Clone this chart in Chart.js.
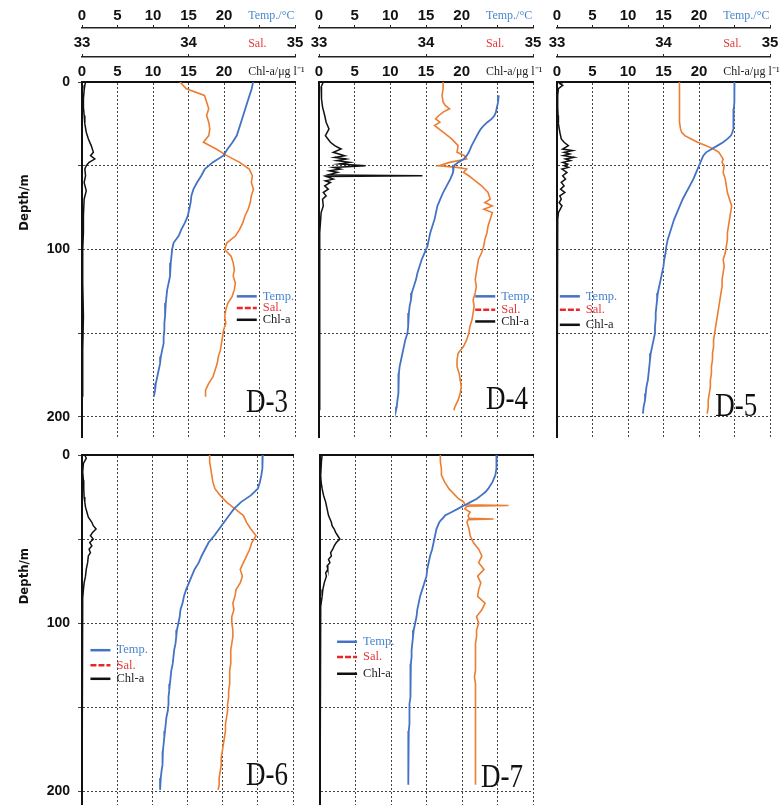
<!DOCTYPE html>
<html lang="en">
<head>
<meta charset="UTF-8">
<title>CTD profiles D-3 to D-7</title>
<style>
  body { margin: 0; background: #fff; }
  #wrap { position: relative; width: 783px; height: 805px; overflow: hidden; }
  #wrap canvas { position: absolute; }
</style>
<script src="https://cdn.jsdelivr.net/npm/chart.js@4.4.1/dist/chart.umd.min.js"></script>
</head>
<body>
<div id="wrap">
  <canvas id="c3" width="310" height="440" style="left:0;top:0"></canvas>
  <canvas id="c4" width="240" height="440" style="left:305px;top:0"></canvas>
  <canvas id="c5" width="238" height="440" style="left:545px;top:0"></canvas>
  <canvas id="c6" width="310" height="365" style="left:0;top:440px"></canvas>
  <canvas id="c7" width="240" height="365" style="left:305px;top:440px"></canvas>
</div>
<script>
// tick labels shown on the axes
const tempTicks = [0, 5, 10, 15, 20];
const salTicks = [33, 34, 35];
const chlTicks = [0, 5, 10, 15, 20];
const depthTicks = [0, 100, 200];

// --- D-3 ---
const d3Dep = [0,4,8,12,16,20,24,28,32,36,40,44,48,52,56,60,64,68,72,76,80,84,88,92,96,100,104,108,112,116,120,124,128,132,136,140,144,148,152,156,160,164,168,172,176,180,184,188];
const d3Tem = [24.1,23.9,23.6,23.3,23.0,22.7,22.4,22.1,21.8,21.2,20.5,19.9,18.4,17.3,16.8,16.2,15.7,15.4,15.3,15.1,14.9,14.5,14.0,13.6,12.9,12.7,12.6,12.5,12.4,12.4,12.2,12.0,11.9,11.8,11.7,11.7,11.6,11.6,11.5,11.5,11.3,11.1,11.0,10.8,10.6,10.4,10.3,10.1];
const d3Sal = [33.92,33.98,34.15,34.17,34.19,34.17,34.19,34.2,34.19,34.14,34.26,34.36,34.48,34.57,34.6,34.59,34.61,34.59,34.58,34.56,34.53,34.51,34.48,34.44,34.36,34.34,34.4,34.42,34.43,34.42,34.44,34.43,34.41,34.37,34.35,34.34,34.35,34.33,34.32,34.31,34.3,34.28,34.27,34.25,34.23,34.19,34.16,34.16];
const d3ChlDep = [0,2,5,10,15,20,25,30,34,38,42,44,46,48,50,52,56,60,65,70,80,90,100,120,140,160,180,188];
const d3Chl = [0.5,0.4,0.3,0.2,0.2,0.3,0.4,0.6,0.9,1.3,1.6,1.2,1.8,1.0,0.6,0.4,0.5,0.3,0.6,0.3,0.2,0.2,0.1,0.1,0.2,0.1,0.1,0.1];

// --- D-4 ---
const d4Dep = [0,4,8,12,14,16,18,20,22,24,26,28,30,34,38,42,44,46,48,50,51,52,54,56,58,62,66,70,72,74,76,78,82,86,90,94,98,102,106,110,114,118,122,126,130,134,138,142,146,150,154,158,162,166,170,174,178,182,186,190,194,196];
const d4Tem = [null,null,25.2,25.1,25.0,24.9,24.8,24.6,24.2,23.6,23.1,22.7,22.4,21.9,21.4,21.0,20.7,20.3,19.5,18.9,18.8,18.8,18.8,18.6,18.4,17.9,17.4,17.0,16.8,16.6,16.5,16.4,16.2,15.9,15.6,15.4,15.2,14.8,14.4,14.1,13.8,13.6,13.3,13.0,12.9,12.7,12.6,12.5,12.5,12.4,12.1,11.9,11.7,11.5,11.3,11.2,11.2,11.1,11.1,11.0,10.9,10.8];
const d4Sal = [34.16,34.16,34.15,34.16,34.18,34.22,34.16,34.12,34.09,34.13,34.08,34.12,34.16,34.24,34.3,34.29,34.36,34.38,34.22,34.12,34.29,34.38,34.35,34.4,34.44,34.52,34.58,34.6,34.55,34.62,34.54,34.62,34.6,34.58,34.57,34.55,34.54,34.52,34.49,34.48,34.47,34.46,34.47,34.46,34.44,34.45,34.44,34.43,34.41,34.4,34.38,34.35,34.3,34.29,34.29,34.31,34.32,34.33,34.32,34.3,34.27,34.26];
const d4ChlDep = [0,3,6,10,15,20,24,28,32,36,38,40,42,44,45,46,47,48,49,50,51,52,53,54,55.6,56,56.4,58,59,60,62,64,66,68,70,74,78,84,90,100,120,140,160,180,196];
const d4Chl = [0.6,0.3,0.3,0.4,0.5,0.8,1.0,1.4,0.9,1.6,2.2,3.1,2.0,3.6,2.2,3.8,2.5,4.3,2.8,6.5,2.0,3.0,1.5,2.6,1.2,14.5,1.0,2.0,0.9,1.6,0.8,1.3,0.6,1.0,0.5,0.6,0.3,0.2,0.1,0.1,0.1,0.1,0.1,0.1,0.1];

// --- D-5 ---
const d5Dep = [0,4,8,12,16,20,24,28,30,32,34,36,38,40,42,44,46,48,50,54,58,62,66,70,74,78,82,86,90,94,98,102,106,110,114,118,122,126,130,134,138,142,146,150,154,158,162,166,170,174,178,182,186,190,194,198];
const d5Tem = [25.0,25.0,25.0,24.95,24.9,24.9,24.85,24.8,24.7,24.5,24.0,23.4,22.6,21.8,21.0,20.6,20.4,20.2,20.0,19.6,19.2,18.7,18.2,17.7,17.3,16.9,16.5,16.2,15.9,15.6,15.4,15.3,15.1,15.0,14.8,14.6,14.4,14.2,14.1,14.0,13.9,13.9,13.8,13.8,13.6,13.4,13.2,13.1,13.0,12.9,12.8,12.6,12.5,12.4,12.2,12.1];
const d5Sal = [34.15,34.15,34.15,34.15,34.15,34.15,34.15,34.16,34.17,34.2,34.26,34.32,34.4,34.47,34.52,34.54,34.56,34.55,34.57,34.56,34.58,34.59,34.6,34.62,34.64,34.63,34.62,34.61,34.6,34.6,34.59,34.58,34.56,34.57,34.56,34.55,34.55,34.54,34.53,34.52,34.51,34.5,34.49,34.48,34.47,34.47,34.46,34.46,34.45,34.45,34.44,34.44,34.43,34.42,34.42,34.41];
const d5ChlDep = [0,1,2,4,8,15,20,25,30,34,36,38,40,41,42,43,44,45,46,47,48,49,50,51,52,54,56,58,60,62,64,66,68,70,72,74,78,82,90,100,150,198];
const d5Chl = [1.0,0.4,0.8,0.2,0.1,0.1,0.15,0.2,0.4,0.6,1.0,1.6,0.8,2.2,1.0,1.8,0.9,2.4,1.2,1.9,0.8,1.5,1.0,1.6,0.7,1.4,0.8,1.2,0.6,1.0,0.5,1.1,0.4,0.6,0.3,0.7,0.2,0.1,0.05,0,0,0];

// --- D-6 ---
const d6Dep = [0,4,8,12,16,20,24,28,32,36,40,44,48,52,56,60,64,68,72,76,80,84,88,92,96,100,104,108,112,116,120,124,128,132,136,140,144,148,152,156,160,164,168,172,176,180,184,188,192,196,199];
const d6Tem = [25.7,25.7,25.6,25.5,25.3,25.0,24.0,22.6,21.6,20.9,20.2,19.5,18.8,18.0,17.5,17.0,16.6,16.0,15.6,15.2,14.8,14.5,14.3,14.0,13.9,13.7,13.5,13.4,13.3,13.1,13.0,12.9,12.7,12.6,12.5,12.4,12.3,12.3,12.2,12.0,11.9,11.8,11.7,11.6,11.5,11.5,11.4,11.3,11.2,11.1,11.1];
const d6Sal = [34.21,34.21,34.22,34.23,34.24,34.26,34.31,34.37,34.45,34.53,34.56,34.6,34.65,34.61,34.59,34.56,34.53,34.5,34.52,34.5,34.46,34.45,34.43,34.44,34.42,34.42,34.43,34.43,34.42,34.41,34.41,34.41,34.4,34.4,34.4,34.39,34.39,34.38,34.38,34.37,34.36,34.36,34.35,34.34,34.33,34.32,34.32,34.31,34.3,34.3,34.29];
const d6ChlDep = [0,2,5,10,15,20,25,28,31,34,37,40,42,44,46,48,50,52,54,56,58,60,64,68,72,76,80,85,90,100,150,199];
const d6Chl = [0.4,0.6,0.2,0.1,0.2,0.25,0.3,0.4,0.5,0.7,0.9,1.4,1.6,2.0,1.5,1.2,1.6,1.1,1.4,1.0,1.2,0.9,0.8,0.6,0.5,0.3,0.2,0.1,0.05,0,0,0];

// --- D-7 ---
const d7Dep = [0,4,8,12,16,20,22,24,26,28,29.6,30,30.4,32,34,36,37.6,38,38.4,40,42,44,48,52,56,60,64,68,72,76,80,84,88,92,96,100,104,108,112,116,120,124,128,132,136,140,144,148,152,156,160,164,168,172,176,180,184,188,192,196];
const d7Tem = [24.9,24.9,24.8,24.7,24.3,23.7,23.3,22.7,22.1,21.2,20.5,20.3,20.1,19.4,18.5,17.6,17.3,17.2,17.1,16.8,16.6,16.4,16.2,16.0,15.8,15.5,15.3,15.1,15.0,14.7,14.4,14.1,13.9,13.7,13.6,13.4,13.2,13.1,13.0,12.9,12.9,12.8,12.8,12.8,12.7,12.7,12.7,12.6,12.6,12.6,12.6,12.5,12.5,12.5,12.5,12.4,12.4,12.4,12.4,12.4];
const d7Sal = [34.13,34.13,34.14,34.14,34.17,34.21,34.24,34.27,34.3,34.35,34.36,34.77,34.38,34.36,34.41,34.39,34.4,34.63,34.39,34.38,34.39,34.4,34.41,34.44,34.49,34.52,34.49,34.54,34.48,34.51,34.49,34.48,34.55,34.52,34.47,34.49,34.47,34.47,34.46,34.46,34.46,34.46,34.46,34.45,34.46,34.46,34.46,34.46,34.46,34.46,34.46,34.46,34.46,34.46,34.46,34.46,34.46,34.46,34.46,34.46];
const d7ChlDep = [0,4,8,12,16,20,24,28,32,36,40,42,44,46,48,50,52,54,56,58,60,62,64,66,68,70,72,76,80,84,90,100,150,196];
const d7Chl = [0.3,0.2,0.15,0.1,0.15,0.3,0.5,0.8,1.0,1.2,1.6,1.7,2.0,2.2,2.5,2.8,2.3,2.0,1.8,1.5,1.6,1.2,1.4,1.0,1.1,0.8,0.9,0.6,0.4,0.3,0.1,0.05,0,0];

const TEMP_COLOR = '#4472c4';
const SAL_COLOR = '#ed7d31';
const CHL_COLOR = '#111';

// legend look (the legend keys differ a little from the data lines)
const legendItems = [
  { text: 'Temp.', line: '#4472c4', textColor: '#4a86cf', dash: [] },
  { text: 'Sal.',  line: '#e8262b', textColor: '#e5383b', dash: [6, 2] },
  { text: 'Chl-a', line: '#111',    textColor: '#222',    dash: [] }
];

const pts = (dep, val) => dep.map((d, i) => ({ x: val[i], y: d }));

// extra drawing: unit names on header axes, legend, station tag, depth title
const decor = {
  id: 'decor',
  afterDatasetsDraw(chart, args, o) {
    const ctx = chart.ctx;
    const xs = chart.scales.xc, ys = chart.scales.y;
    ctx.save();
    if (o.header) {
      ctx.font = '12px "Liberation Serif", serif';
      ctx.textAlign = 'left';
      ctx.textBaseline = 'middle';
      const ux = xs.getPixelForValue(23.4);
      [['xt', 'Temp./°C', '#4a86cf', 12], ['xs', 'Sal.', '#e5383b', 13], ['xc', 'Chl-a/μg l⁻¹', '#222', 10]]
        .forEach(([id, t, c, off]) => {
          ctx.fillStyle = c;
          ctx.fillText(t, ux, chart.scales[id].bottom - off);
        });
    }
    // legend
    const lx = xs.getPixelForValue(o.legend.x);
    ctx.font = '12.5px "Liberation Serif", serif';
    ctx.textAlign = 'left';
    ctx.textBaseline = 'middle';
    legendItems.forEach((it, i) => {
      const ly = ys.getPixelForValue(o.legend.rows[i]);
      ctx.strokeStyle = it.line;
      ctx.lineWidth = 2.5;
      ctx.setLineDash(it.dash);
      ctx.beginPath();
      ctx.moveTo(lx, ly);
      ctx.lineTo(lx + 20, ly);
      ctx.stroke();
      ctx.setLineDash([]);
      ctx.fillStyle = it.textColor;
      ctx.fillText(it.text, lx + 26, ly);
    });
    // station tag
    ctx.save();
    ctx.font = '27px "Liberation Serif", serif';
    ctx.fillStyle = '#111';
    ctx.textAlign = 'right';
    ctx.textBaseline = 'alphabetic';
    ctx.translate(xs.getPixelForValue(o.tag.x), ys.getPixelForValue(o.tag.y));
    ctx.scale(1, 1.25);
    ctx.fillText(o.tag.text, 0, 0);
    ctx.restore();
    // depth title
    if (o.depthTitle) {
      ctx.save();
      ctx.font = 'bold 13px "Liberation Sans Narrow", "DejaVu Sans Condensed", sans-serif';
      ctx.fillStyle = '#111';
      ctx.textAlign = 'center';
      ctx.textBaseline = 'middle';
      ctx.translate(25, ys.getPixelForValue(72));
      ctx.rotate(-Math.PI / 2);
      ctx.fillText('Depth/m', 0, 0);
      ctx.restore();
    }
    ctx.restore();
  }
};

const tickFont = { family: '"Liberation Sans", Arial, sans-serif', size: 15, weight: 'bold' };

function makePanel(p) {
  const headerAxis = (weight, min, max, step, shown, h, pad) => ({
    type: 'linear', position: 'top', display: p.header, weight, min, max,
    afterFit: s => { s.height = p.header ? h : 0; s.paddingLeft = 0; s.paddingRight = 0; },
    border: { display: true, color: '#222', width: 1.5 },
    grid: { drawOnChartArea: false, drawTicks: true, tickLength: 3, color: '#222' },
    ticks: { stepSize: step, padding: pad, color: '#111', font: tickFont, maxRotation: 0,
             callback: v => shown.includes(v) ? String(v) : '' }
  });

  new Chart(document.getElementById(p.id), {
    type: 'scatter',
    data: {
      datasets: [
        { label: 'Temp.', data: pts(p.dep, p.tem), xAxisID: 'xt', yAxisID: 'y',
          showLine: true, borderColor: TEMP_COLOR, borderWidth: 1.8, pointRadius: 0 },
        { label: 'Sal.', data: pts(p.dep, p.sal), xAxisID: 'xs', yAxisID: 'y',
          showLine: true, borderColor: SAL_COLOR, borderWidth: 1.6, pointRadius: 0 },
        { label: 'Chl-a', data: pts(p.chlDep, p.chl), xAxisID: 'xc', yAxisID: 'y',
          showLine: true, borderColor: CHL_COLOR, borderWidth: 1.5, pointRadius: 0 }
      ]
    },
    options: {
      responsive: false,
      animation: false,
      layout: { padding: p.pad },
      scales: {
        y: {
          type: 'linear', position: 'left', reverse: true, min: 0, max: p.depthMax,
          afterFit: s => { s.width = p.yw; s.paddingTop = 0; s.paddingBottom = 0; },
          border: { display: true, color: '#111', width: 2, dash: [2, 2] },
          grid: { color: '#444', drawTicks: p.depthLabels, tickLength: 4 },
          ticks: { display: p.depthLabels, stepSize: 50, includeBounds: false, padding: 8,
                   color: '#111', font: { ...tickFont, size: 14 },
                   callback: v => depthTicks.includes(v) ? String(v) : '' }
        },
        xc: {
          type: 'linear', position: 'top', weight: 0, min: 0, max: 30,
          afterFit: s => { s.height = p.header ? 25 : 0; s.paddingLeft = 0; s.paddingRight = 0; },
          border: { display: true, color: '#111', width: 2, dash: [2, 2] },
          grid: { color: '#444', drawTicks: false },
          ticks: { display: p.header, stepSize: 5, padding: 1, color: '#111', font: tickFont,
                   maxRotation: 0, callback: v => chlTicks.includes(v) ? String(v) : '' }
        },
        xs: headerAxis(1, 33, 35, 1, salTicks, 29, 2),
        xt: headerAxis(2, 0, 30, 5, tempTicks, 28, 0)
      },
      plugins: {
        legend: { display: false },
        tooltip: { enabled: false },
        decor: { header: p.header, legend: p.legend, tag: p.tag, depthTitle: p.depthLabels }
      }
    },
    plugins: [decor]
  });
}

const panels = [
  { id: 'c3', dep: d3Dep, tem: d3Tem, sal: d3Sal, chlDep: d3ChlDep, chl: d3Chl,
    header: true, depthLabels: true, yw: 82, depthMax: 212,
    pad: { top: 0, right: 15, bottom: 3, left: 0 },
    legend: { x: 21.8, rows: [128, 135, 142] }, tag: { text: 'D-3', x: 29.0, y: 197 } },
  { id: 'c4', dep: d4Dep, tem: d4Tem, sal: d4Sal, chlDep: d4ChlDep, chl: d4Chl,
    header: true, depthLabels: false, yw: 14, depthMax: 212,
    pad: { top: 0, right: 12, bottom: 3, left: 0 },
    legend: { x: 21.9, rows: [128, 136, 143] }, tag: { text: 'D-4', x: 29.3, y: 195.5 } },
  { id: 'c5', dep: d5Dep, tem: d5Tem, sal: d5Sal, chlDep: d5ChlDep, chl: d5Chl,
    header: true, depthLabels: false, yw: 12, depthMax: 212,
    pad: { top: 0, right: 13, bottom: 3, left: 0 },
    legend: { x: 0.4, rows: [128, 136, 145] }, tag: { text: 'D-5', x: 28.2, y: 199.5 } },
  { id: 'c6', dep: d6Dep, tem: d6Tem, sal: d6Sal, chlDep: d6ChlDep, chl: d6Chl,
    header: false, depthLabels: true, yw: 82, depthMax: 208,
    pad: { top: 15, right: 17, bottom: 0, left: 0 },
    legend: { x: 1.2, rows: [116, 125, 133] }, tag: { text: 'D-6', x: 29.3, y: 196 } },
  { id: 'c7', dep: d7Dep, tem: d7Tem, sal: d7Sal, chlDep: d7ChlDep, chl: d7Chl,
    header: false, depthLabels: false, yw: 15, depthMax: 208,
    pad: { top: 15, right: 12, bottom: 0, left: 0 },
    legend: { x: 2.4, rows: [111, 120, 130] }, tag: { text: 'D-7', x: 28.6, y: 197.5 } }
];

panels.forEach(makePanel);
</script>
</body>
</html>
